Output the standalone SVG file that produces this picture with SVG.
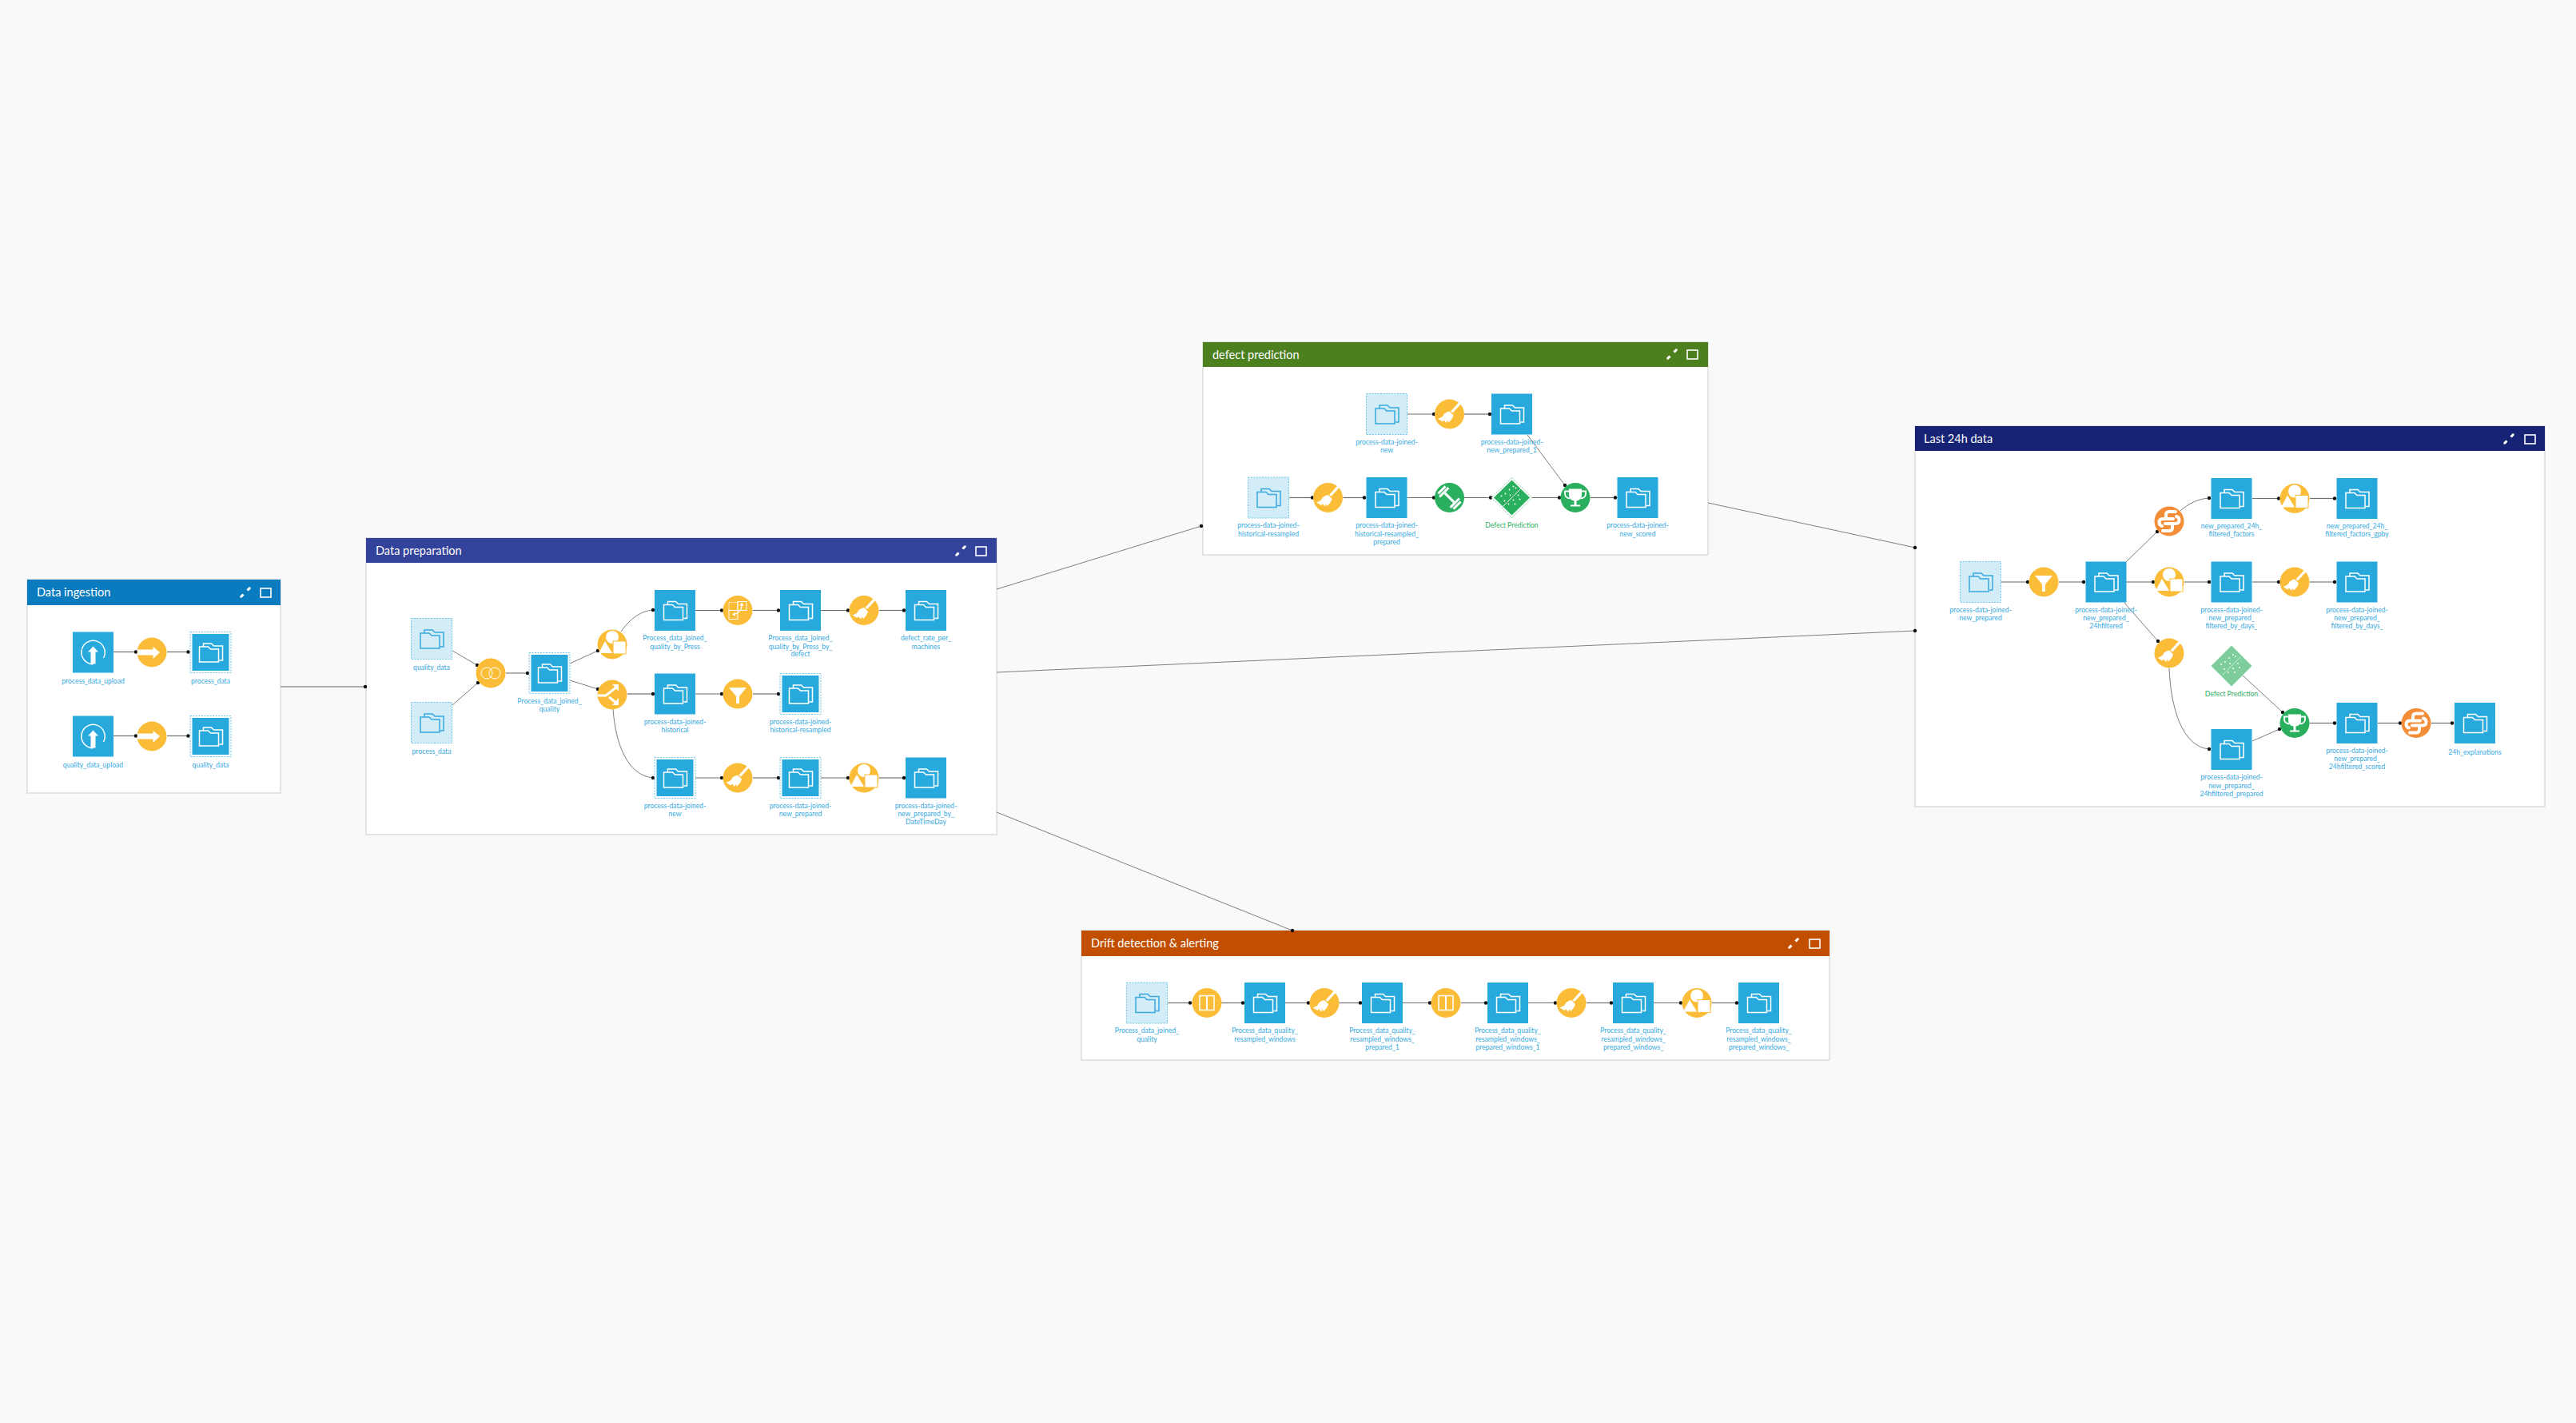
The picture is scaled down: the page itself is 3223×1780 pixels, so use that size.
<svg xmlns="http://www.w3.org/2000/svg" xmlns:xlink="http://www.w3.org/1999/xlink" width="3223" height="1780" viewBox="0 0 3223 1780">
<style>
.bg{fill:#f9f9f9}
.zone{fill:#fff;stroke:#dcdcdc;stroke-width:1.5}
.tt{font:14.5px Lato,"Open Sans",sans-serif;fill:#fff}
.l{font:8.6px Lato,"Open Sans",sans-serif;fill:#36a9df;text-anchor:middle}
.lg{fill:#2fae63}
.e{fill:none;stroke:#6f6f6f;stroke-width:1.2;marker-end:url(#dot)}
.t{fill:none;stroke:#b0b0b0;stroke-width:2;marker-end:url(#dot)}
.n{fill:none;stroke:#6f6f6f;stroke-width:.9;marker-end:url(#dot)}
.w{fill:#fff}
.ws{fill:none;stroke:#fff}
</style>
<defs>
<marker id="dot" markerUnits="userSpaceOnUse" markerWidth="6" markerHeight="6" refX="3" refY="3"><circle cx="3" cy="3" r="2.2" fill="#111"/></marker>
<g id="folder"><path d="M-9-7V-11H1L4-8H15V10H11M-14 12V-7H-3L0-4H10V12Z" fill="none" stroke="currentColor" stroke-width="1.5"/></g>
<g id="ds" color="#fff"><rect x="-25.5" y="-25.5" width="51" height="51" fill="#28a9de"/><use href="#folder"/></g>
<g id="up"><rect x="-25.5" y="-25.5" width="51" height="51" fill="#28a9de"/><path class="ws" stroke-width="1.500" d="M0 14.700A14.700 14.700 0 1 1 13 7"/><path class="w" d="M0-7.500 6.500-.5H3V14.500H-3V-.5H-6.500Z"/></g>
<g id="dsd" color="#fff"><rect x="-25.5" y="-25.5" width="51" height="51" fill="#fff" stroke="#6fc6ea" stroke-dasharray="2 1.5"/><rect x="-23" y="-23" width="46" height="46" fill="#28a9de"/><use href="#folder"/></g>
<g id="dsl" color="#38a8dd"><rect x="-25.5" y="-25.5" width="51" height="51" fill="#d3edf8" stroke="#6fc6ea" stroke-dasharray="2 1.5"/><use href="#folder"/></g>
<g id="ra"><circle r="18.5" fill="#fbbd38"/></g>
<g id="sync"><use href="#ra"/><path class="w" d="M-18-3.5H1.5V-7L10 0 1.5 8V3.5H-18Z"/></g>
<g id="join"><use href="#ra"/><circle cx="-5" r="7" class="ws"/><circle cx="5" r="7" class="ws"/></g>
<g id="group"><use href="#ra"/><circle cy="-9" r="8" class="w"/><path class="w" d="M-17 11H0L-9-4Z"/><rect x="1" y="-4" width="16" height="16" class="w" stroke="#fbbd38"/></g>
<g id="split"><use href="#ra"/><path class="ws" stroke-width="3" d="M-18 1H-8L6-10M-4 3 6 11"/><path class="w" d="M0-13 8-13 8-4ZM8 4V13H0Z"/></g>
<g id="filter"><use href="#ra"/><path class="w" d="M-11-8H11L2 3V12H-2V3Z"/></g>
<g id="broom"><use href="#ra"/><path class="w" d="M13-16 15.500-14 4-1.500 1.500-3.500Z"/><path class="w" d="M0-3.500 5 1.500Q4 6-1 10.500L-2.500 8-4 11-7 7.500-8.500 9.500-14.500 6Q-8 4-6.500-.5-3-3 0-3.500Z"/></g>
<g id="pivot"><use href="#ra"/><rect x="-11" y="-10" width="11" height="10" fill="none" stroke="#fff" stroke-dasharray="1.500 1"/><rect x="0" y="-11" width="11" height="11" class="ws"/><rect x="-11" y="0" width="11" height="11" class="ws"/><path class="ws" stroke-width="1.200" d="M5-8Q6 2-5 5"/><path class="w" d="M5-10 7.500-6H2.500ZM-7 5-3 2.500V7.500Z"/></g>
<g id="window"><use href="#ra"/><rect x="-9" y="-9" width="18" height="18" class="ws" stroke-width="1.500"/><path class="ws" stroke-width="2" d="M0-9V9"/></g>
<path id="snake" class="ws" stroke-width="4" stroke-linecap="round" d="M8-12H0Q-4-12-4-8V-3H5M-4-3H-8Q-12.500-3-12.500 1.500-12.500 5-9 6"/>
<g id="py"><circle r="18.500" fill="#f38d38"/><use href="#snake"/><use href="#snake" transform="rotate(180)"/></g>
<g id="train"><circle r="18.500" fill="#29af5d"/><g class="w" transform="rotate(45)"><rect x="-8" y="-1.500" width="16" height="3"/><rect x="-11" y="-8" width="3" height="16"/><rect x="-15" y="-6.500" width="3" height="13"/><rect x="8" y="-8" width="3" height="16"/><rect x="12" y="-6.500" width="3" height="13"/></g></g>
<g id="score"><circle r="18.500" fill="#29af5d"/><path class="w" d="M-8-11H8V-4Q8 3 1.500 4V9H6V11H-6V9H-1.500V4Q-8 3-8-4Z"/><path class="ws" stroke-width="1.800" d="M-8-8H-13V-5Q-13 0-7 1M8-8H13V-5Q13 0 7 1"/></g>
<g id="mdots" class="w"><circle cx="-13" cy="-2" r=".9"/><circle cx="-8" cy="-5" r=".9"/><circle cx="-3" cy="-10" r=".9"/><circle cx="2" cy="-14" r=".9"/><circle cx="5" cy="-12" r=".9"/><circle cx="-9" cy="4" r=".9"/><circle cx="-4" cy="8" r=".9"/><circle cx="2" cy="3" r=".9"/><circle cx="8" cy="-3" r=".9"/><circle cx="-2" cy="-3" r=".9"/><circle cx="4" cy="8" r=".9"/><circle cx="10" cy="2" r=".9"/></g>
<g id="model"><path d="M0-25 25.500 0 0 25-25.500 0Z" fill="#fff" stroke="#7fd0a0" stroke-dasharray="2 1.500"/><path d="M0-22 22.500 0 0 22-22.500 0Z" fill="#29af5d"/><path class="ws" d="M-11 11 11-11"/><use href="#mdots"/></g>
<g id="model2" opacity=".6"><path d="M0-25.500 25.500 0 0 25.500-25.500 0Z" fill="#29af5d"/><path class="ws" stroke-dasharray="1.500 1" d="M-11 11 11-11"/><use href="#mdots"/></g>
<g id="ico"><path class="w" d="M-7 7-2 4-4 2ZM7-7 2-4 4-2Z"/><path class="ws" stroke-width="3" d="M-6 6-2.500 2.500M6-6 2.500-2.500"/></g>
<rect id="max" width="13" height="11" fill="none" stroke="#fff" stroke-width="1.600"/>
</defs>
<rect class="bg" width="3223" height="1780"/>

<g id="zones">
<g id="zone-ingestion"><rect class="zone" x="34" y="725" width="317" height="267"/><rect x="34" y="725" width="317" height="32" fill="#0b7bc0"/><text class="tt" x="46" y="746">Data ingestion</text><use href="#ico" x="307" y="741"/><use href="#max" x="326" y="736"/></g>
<g id="zone-prep"><rect class="zone" x="458" y="673" width="789" height="371"/><rect x="458" y="673" width="789" height="31" fill="#33429b"/><text class="tt" x="470" y="694">Data preparation</text><use href="#ico" x="1202" y="689"/><use href="#max" x="1221" y="684"/></g>
<g id="zone-defect"><rect class="zone" x="1505" y="428" width="632" height="266"/><rect x="1505" y="428" width="632" height="31" fill="#4c801f"/><text class="tt" x="1517" y="449">defect prediction</text><use href="#ico" x="2092" y="443"/><use href="#max" x="2111" y="438"/></g>
<g id="zone-24h"><rect class="zone" x="2396" y="533" width="788" height="476"/><rect x="2396" y="533" width="788" height="31" fill="#162274"/><text class="tt" x="2407" y="554">Last 24h data</text><use href="#ico" x="3139" y="549"/><use href="#max" x="3159" y="544"/></g>
<g id="zone-drift"><rect class="zone" x="1353" y="1164" width="936" height="162"/><rect x="1353" y="1164" width="936" height="32" fill="#c24f00"/><text class="tt" x="1365" y="1185">Drift detection &amp; alerting</text><use href="#ico" x="2244" y="1180"/><use href="#max" x="2264" y="1175"/></g>
</g>

<g id="connectors">
<path class="t" d="M351 859H457"/>
<path class="n" d="M1247 737 1503 658"/>
<path class="n" d="M1247 841 2396 789"/>
<path class="n" d="M1247 1016 1617 1164"/>
<path class="n" d="M2137 629 2396 685"/>

<path class="e" d="M142 815.500H170"/><path class="e" d="M209 815.500H235.500"/>
<path class="e" d="M142 920.500H170"/><path class="e" d="M209 920.500H235.500"/>

<path class="n" d="M566 814 597 832"/><path class="n" d="M566 882 598 854"/>
<path class="t" d="M633 842H660"/>
<path class="n" d="M713 830 748 814"/><path class="n" d="M713 851 748 862"/>
<path class="n" d="M777 790C788 774 802 764 817 763"/>
<path class="e" d="M785 868H817"/>
<path class="n" d="M767 887C770 930 785 970 817 973"/>
<path class="e" d="M870 763.500H903"/><path class="e" d="M942 763.500H974"/><path class="e" d="M1027 763.500H1061"/><path class="e" d="M1100 763.500H1131"/>
<path class="e" d="M870 868H903"/><path class="e" d="M942 868H974"/>
<path class="e" d="M870 973H903"/><path class="e" d="M942 973H974"/><path class="e" d="M1027 973H1061"/><path class="e" d="M1100 973H1131"/>

<path class="e" d="M1760.500 518H1794"/><path class="e" d="M1832 518H1864"/>
<path class="n" d="M1911 544 1958 607"/>
<path class="e" d="M1613 622.500H1642"/><path class="e" d="M1680.500 622.500H1707"/><path class="e" d="M1760.500 622.500H1794"/><path class="e" d="M1832 622.500H1865"/><path class="e" d="M1917 622.500H1951"/><path class="e" d="M1990 622.500H2021"/>

<path class="t" d="M2503.500 728H2537"/><path class="t" d="M2576 728H2607"/>
<path class="n" d="M2660 703 2699 665"/><path class="t" d="M2660 728H2694"/>
<path class="n" d="M2658 754 2700 802"/>
<path class="n" d="M2728 639C2738 630 2750 624 2764 623"/>
<path class="t" d="M2733 728H2764"/>
<path class="n" d="M2714 836C2716 885 2730 934 2764 937"/>
<path class="e" d="M2818 623.500H2851"/><path class="e" d="M2890 623.500H2921"/>
<path class="t" d="M2818 728H2851"/><path class="t" d="M2890 728H2921"/>
<path class="n" d="M2806 845 2856 891"/><path class="n" d="M2818 927 2852 912"/>
<path class="e" d="M2890 904.500H2921"/><path class="e" d="M2975 904.500H3003"/><path class="e" d="M3042 904.500H3068"/>

<path class="e" d="M1461 1254.500H1489"/><path class="e" d="M1528 1254.500H1555"/><path class="e" d="M1608 1254.500H1637"/><path class="e" d="M1675 1254.500H1702"/><path class="e" d="M1755 1254.500H1789"/><path class="e" d="M1828 1254.500H1859"/><path class="e" d="M1912 1254.500H1946"/><path class="e" d="M1985 1254.500H2016"/><path class="e" d="M2069 1254.500H2103"/><path class="e" d="M2142 1254.500H2173"/>
</g>

<g id="nodes">
<g id="i1"><use href="#up" x="116.500" y="816"/><text class="l" x="116.500" y="855">process_data_upload</text></g>
<g id="i2"><use href="#sync" x="190" y="816"/></g>
<g id="i3"><use href="#dsd" x="263.500" y="816"/><text class="l" x="263.500" y="855">process_data</text></g>
<g id="i4"><use href="#up" x="116.500" y="921"/><text class="l" x="116.500" y="960">quality_data_upload</text></g>
<g id="i5"><use href="#sync" x="190" y="921"/></g>
<g id="i6"><use href="#dsd" x="263.500" y="921"/><text class="l" x="263.500" y="960">quality_data</text></g>

<g id="p1"><use href="#dsl" x="540" y="799"/><text class="l" x="540" y="838">quality_data</text></g>
<g id="p2"><use href="#dsl" x="540" y="904"/><text class="l" x="540" y="943">process_data</text></g>
<g id="p3"><use href="#join" x="614" y="842"/></g>
<g id="p4"><use href="#dsd" x="687.500" y="842"/><text class="l" x="687.500" y="880">Process_data_joined_</text><text class="l" x="687.500" y="890">quality</text></g>
<g id="p5"><use href="#group" x="766" y="806"/></g>
<g id="p6"><use href="#split" x="766" y="869"/></g>
<g id="p7"><use href="#ds" x="844.500" y="763.500"/><text class="l" x="844.500" y="801">Process_data_joined_</text><text class="l" x="844.500" y="812">quality_by_Press</text></g>
<g id="p8"><use href="#pivot" x="923" y="763.500"/></g>
<g id="p9"><use href="#ds" x="1001.500" y="763.500"/><text class="l" x="1001.500" y="801">Process_data_joined_</text><text class="l" x="1001.500" y="812">quality_by_Press_by_</text><text class="l" x="1001.500" y="821">defect</text></g>
<g id="p10"><use href="#broom" x="1081" y="763.500"/></g>
<g id="p11"><use href="#ds" x="1158.500" y="763.500"/><text class="l" x="1158.500" y="801">defect_rate_per_</text><text class="l" x="1158.500" y="812">machines</text></g>
<g id="p12"><use href="#ds" x="844.500" y="868"/><text class="l" x="844.500" y="906">process-data-joined-</text><text class="l" x="844.500" y="916">historical</text></g>
<g id="p13"><use href="#filter" x="923" y="868"/></g>
<g id="p14"><use href="#dsd" x="1001.500" y="868"/><text class="l" x="1001.500" y="906">process-data-joined-</text><text class="l" x="1001.500" y="916">historical-resampled</text></g>
<g id="p15"><use href="#dsd" x="844.500" y="973"/><text class="l" x="844.500" y="1011">process-data-joined-</text><text class="l" x="844.500" y="1021">new</text></g>
<g id="p16"><use href="#broom" x="923" y="973"/></g>
<g id="p17"><use href="#dsd" x="1001.500" y="973"/><text class="l" x="1001.500" y="1011">process-data-joined-</text><text class="l" x="1001.500" y="1021">new_prepared</text></g>
<g id="p18"><use href="#group" x="1081" y="973"/></g>
<g id="p19"><use href="#ds" x="1158.500" y="973"/><text class="l" x="1158.500" y="1011">process-data-joined-</text><text class="l" x="1158.500" y="1021">new_prepared_by_</text><text class="l" x="1158.500" y="1031">DateTimeDay</text></g>

<g id="d1"><use href="#dsl" x="1735" y="518"/><text class="l" x="1735" y="556">process-data-joined-</text><text class="l" x="1735" y="566">new</text></g>
<g id="d2"><use href="#broom" x="1813.500" y="518"/></g>
<g id="d3"><use href="#ds" x="1891.500" y="518"/><text class="l" x="1891.500" y="556">process-data-joined-</text><text class="l" x="1891.500" y="566">new_prepared_1</text></g>
<g id="d4"><use href="#dsl" x="1587" y="622.500"/><text class="l" x="1587" y="660">process-data-joined-</text><text class="l" x="1587" y="671">historical-resampled</text></g>
<g id="d5"><use href="#broom" x="1661.500" y="622.500"/></g>
<g id="d6"><use href="#ds" x="1735" y="622.500"/><text class="l" x="1735" y="660">process-data-joined-</text><text class="l" x="1735" y="671">historical-resampled_</text><text class="l" x="1735" y="681">prepared</text></g>
<g id="d7"><use href="#train" x="1813.500" y="622.500"/></g>
<g id="d8"><use href="#model" x="1891.500" y="622.500"/><text class="l lg" x="1891.500" y="660">Defect Prediction</text></g>
<g id="d9"><use href="#score" x="1971" y="622.500"/></g>
<g id="d10"><use href="#ds" x="2049" y="622.500"/><text class="l" x="2049" y="660">process-data-joined-</text><text class="l" x="2049" y="671">new_scored</text></g>

<g id="l1"><use href="#dsl" x="2478" y="728"/><text class="l" x="2478" y="766">process-data-joined-</text><text class="l" x="2478" y="776">new_prepared</text></g>
<g id="l2"><use href="#filter" x="2557" y="728"/></g>
<g id="l3"><use href="#ds" x="2635" y="728"/><text class="l" x="2635" y="766">process-data-joined-</text><text class="l" x="2635" y="776">new_prepared_</text><text class="l" x="2635" y="786">24hfiltered</text></g>
<g id="l4"><use href="#py" x="2714" y="652"/></g>
<g id="l5"><use href="#group" x="2714" y="728"/></g>
<g id="l6"><use href="#broom" x="2714" y="817"/></g>
<g id="l7"><use href="#ds" x="2792" y="623.500"/><text class="l" x="2792" y="661">new_prepared_24h_</text><text class="l" x="2792" y="671">filtered_factors</text></g>
<g id="l8"><use href="#ds" x="2792" y="728"/><text class="l" x="2792" y="766">process-data-joined-</text><text class="l" x="2792" y="776">new_prepared_</text><text class="l" x="2792" y="786">filtered_by_days_</text></g>
<g id="l9"><use href="#model2" x="2792" y="833"/><text class="l lg" x="2792" y="871">Defect Prediction</text></g>
<g id="l10"><use href="#ds" x="2792" y="937.500"/><text class="l" x="2792" y="975">process-data-joined-</text><text class="l" x="2792" y="986">new_prepared_</text><text class="l" x="2792" y="996">24hfiltered_prepared</text></g>
<g id="l11"><use href="#group" x="2871" y="623.500"/></g>
<g id="l12"><use href="#broom" x="2871" y="728"/></g>
<g id="l13"><use href="#score" x="2871" y="904.500"/></g>
<g id="l14"><use href="#ds" x="2949" y="623.500"/><text class="l" x="2949" y="661">new_prepared_24h_</text><text class="l" x="2949" y="671">filtered_factors_gpby</text></g>
<g id="l15"><use href="#ds" x="2949" y="728"/><text class="l" x="2949" y="766">process-data-joined-</text><text class="l" x="2949" y="776">new_prepared_</text><text class="l" x="2949" y="786">filtered_by_days_</text></g>
<g id="l16"><use href="#ds" x="2949" y="904.500"/><text class="l" x="2949" y="942">process-data-joined-</text><text class="l" x="2949" y="952">new_prepared_</text><text class="l" x="2949" y="962">24hfiltered_scored</text></g>
<g id="l17"><use href="#py" x="3023" y="904.500"/></g>
<g id="l18"><use href="#ds" x="3096.500" y="904.500"/><text class="l" x="3096.500" y="944">24h_explanations</text></g>

<g id="r1"><use href="#dsl" x="1435" y="1254.500"/><text class="l" x="1435" y="1292">Process_data_joined_</text><text class="l" x="1435" y="1303">quality</text></g>
<g id="r2"><use href="#window" x="1510" y="1254.500"/></g>
<g id="r3"><use href="#ds" x="1582.500" y="1254.500"/><text class="l" x="1582.500" y="1292">Process_data_quality_</text><text class="l" x="1582.500" y="1303">resampled_windows</text></g>
<g id="r4"><use href="#broom" x="1657" y="1254.500"/></g>
<g id="r5"><use href="#ds" x="1729.500" y="1254.500"/><text class="l" x="1729.500" y="1292">Process_data_quality_</text><text class="l" x="1729.500" y="1303">resampled_windows_</text><text class="l" x="1729.500" y="1313">prepared_1</text></g>
<g id="r6"><use href="#window" x="1809" y="1254.500"/></g>
<g id="r7"><use href="#ds" x="1886.500" y="1254.500"/><text class="l" x="1886.500" y="1292">Process_data_quality_</text><text class="l" x="1886.500" y="1303">resampled_windows_</text><text class="l" x="1886.500" y="1313">prepared_windows_1</text></g>
<g id="r8"><use href="#broom" x="1966" y="1254.500"/></g>
<g id="r9"><use href="#ds" x="2043.500" y="1254.500"/><text class="l" x="2043.500" y="1292">Process_data_quality_</text><text class="l" x="2043.500" y="1303">resampled_windows_</text><text class="l" x="2043.500" y="1313">prepared_windows_</text></g>
<g id="r10"><use href="#group" x="2123" y="1254.500"/></g>
<g id="r11"><use href="#ds" x="2200.500" y="1254.500"/><text class="l" x="2200.500" y="1292">Process_data_quality_</text><text class="l" x="2200.500" y="1303">resampled_windows_</text><text class="l" x="2200.500" y="1313">prepared_windows_</text></g>
</g>
</svg>
